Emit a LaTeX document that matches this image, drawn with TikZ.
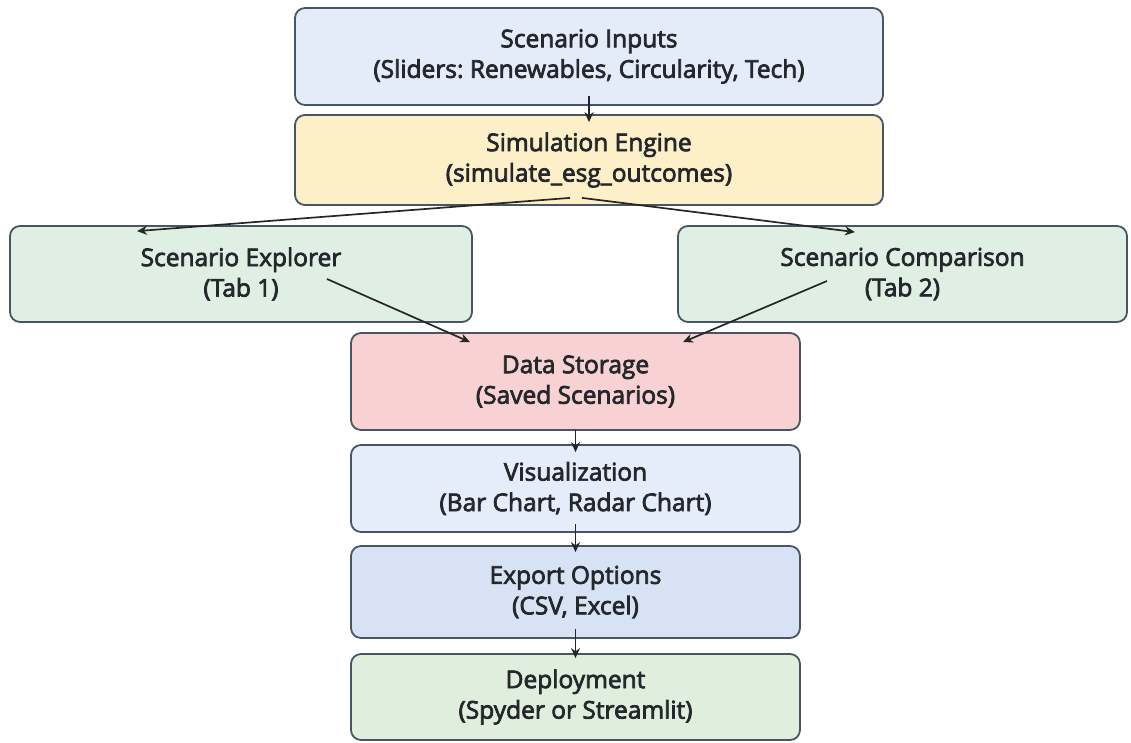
\documentclass[tikz,border=0pt]{standalone}
\usepackage{fontspec}
\setmainfont{Open Sans}
\newfontfamily\boxfont{Open Sans}[FakeBold=3]
\frenchspacing
\usetikzlibrary{arrows.meta}
\definecolor{edge}{HTML}{4A5563}
\definecolor{txt}{HTML}{24272B}
\definecolor{fblue}{HTML}{E4ECFA}
\definecolor{fyellow}{HTML}{FDF0C9}
\definecolor{fgreen}{HTML}{E0EFE3}
\definecolor{fred}{HTML}{F8D2D3}
\definecolor{fviz}{HTML}{E6EDFA}
\definecolor{fexport}{HTML}{D7E3F5}
\definecolor{fdeploy}{HTML}{E0EFDD}
\begin{document}
\begin{tikzpicture}[x=1pt,y=-1pt,
  box/.style={draw=edge, line width=1.8pt, rounded corners=10pt,
    align=center, text=txt, inner sep=0pt,
    font=\boxfont\fontsize{24.5}{30.5}\selectfont},
  arr/.style={draw=black!85, line width=1.7pt, -{Stealth[length=10pt,width=9pt]}}]
  \useasboundingbox (0,0) rectangle (1131,743);

  \node[box, fill=fblue, minimum width=588pt, minimum height=97pt] (inputs) at (589,56.5)
    {Scenario Inputs\\(Sliders: Renewables, Circularity, Tech)};
  \node[box, fill=fyellow, minimum width=588pt, minimum height=90pt] (engine) at (589,160)
    {Simulation Engine\\(simulate\_esg\_outcomes)};
  \node[box, fill=fgreen, minimum width=462pt, minimum height=96pt] (explorer) at (241,274)
    {Scenario Explorer\\(Tab 1)};
  \node[box, fill=fgreen, minimum width=449pt, minimum height=96pt] (compare) at (902.5,274)
    {Scenario Comparison\\(Tab 2)};
  \node[box, fill=fred, minimum width=449pt, minimum height=97pt] (storage) at (575.5,381.5)
    {Data Storage\\(Saved Scenarios)};
  \node[box, fill=fviz, minimum width=449pt, minimum height=87pt] (viz) at (575.5,488.5)
    {Visualization\\(Bar Chart, Radar Chart)};
  \node[box, fill=fexport, minimum width=449pt, minimum height=92pt] (export) at (575.5,592)
    {Export Options\\(CSV, Excel)};
  \node[box, fill=fdeploy, minimum width=449pt, minimum height=86pt] (deploy) at (575.5,697)
    {Deployment\\(Spyder or Streamlit)};

  % vertical links
  \draw[arr, shorten <=-10pt, shorten >=-8pt] (inputs.south) -- (engine.north);
  \draw[arr, shorten <=-1pt, shorten >=-8pt] (storage.south) -- (viz.north);
  \draw[arr, shorten <=-9pt, shorten >=-7pt] (viz.south) -- (export.north);
  \draw[arr, shorten <=-10pt, shorten >=-5pt] (export.south) -- (deploy.north);

  % fan-out from the engine
  \draw[arr] ([xshift=-19pt,yshift=8pt]engine.south) -- ([xshift=-104pt,yshift=-6pt]explorer.north);
  \draw[arr] ([xshift=-7pt,yshift=8pt]engine.south) -- ([xshift=-47.5pt,yshift=-7pt]compare.north);

  % fan-in to storage
  \draw[arr] ([xshift=86pt,yshift=-5pt]explorer.center) -- ([xshift=-105.5pt,yshift=-10pt]storage.north);
  \draw[arr] ([xshift=-75.5pt,yshift=-7pt]compare.center) -- ([xshift=107.5pt,yshift=-10pt]storage.north);
\end{tikzpicture}
\end{document}
